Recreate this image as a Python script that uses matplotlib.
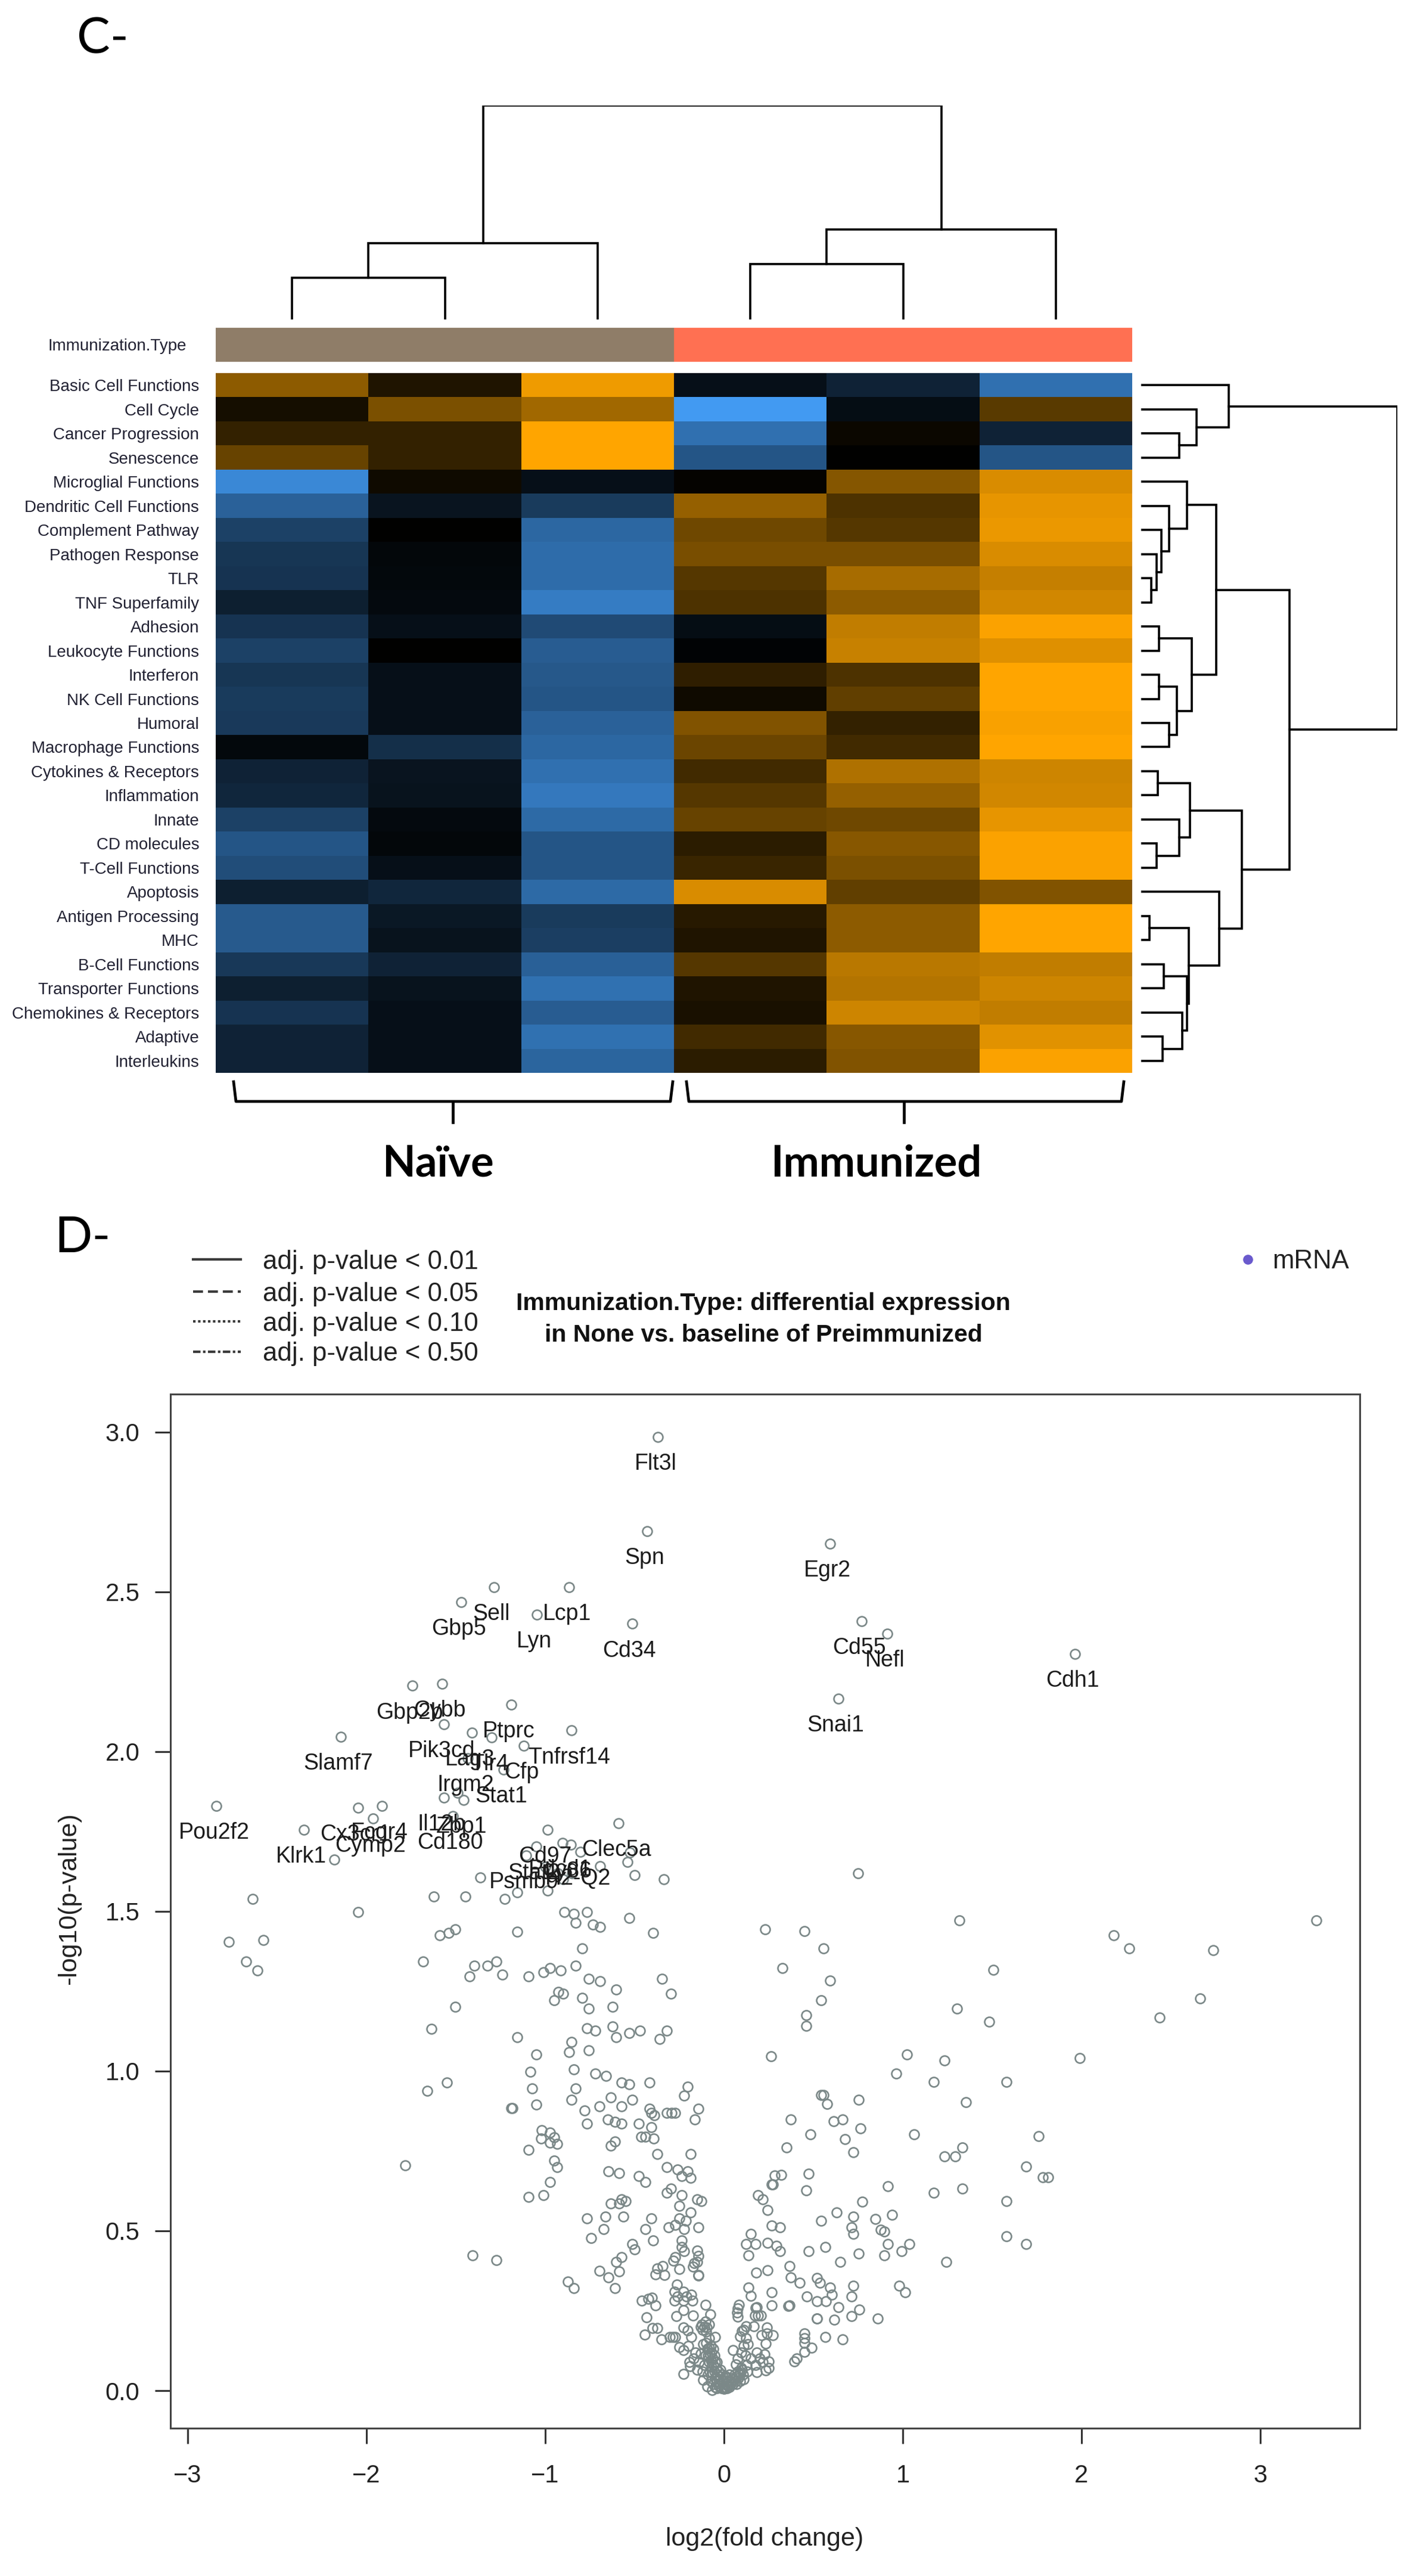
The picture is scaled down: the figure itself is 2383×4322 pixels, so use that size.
import matplotlib
matplotlib.use("Agg")
import matplotlib.pyplot as plt
from matplotlib.colors import LinearSegmentedColormap, ListedColormap

W, H = 2383, 4322
plt.rcParams['font.family'] = ['Liberation Sans', 'DejaVu Sans']

# Panel C data
pathways = ["Basic Cell Functions", "Cell Cycle", "Cancer Progression", "Senescence",
            "Microglial Functions", "Dendritic Cell Functions", "Complement Pathway",
            "Pathogen Response", "TLR", "TNF Superfamily", "Adhesion", "Leukocyte Functions",
            "Interferon", "NK Cell Functions", "Humoral", "Macrophage Functions",
            "Cytokines & Receptors", "Inflammation", "Innate", "CD molecules",
            "T-Cell Functions", "Apoptosis", "Antigen Processing", "MHC", "B-Cell Functions",
            "Transporter Functions", "Chemokines & Receptors", "Adaptive", "Interleukins"]
scores = [
    [.55, .12, .93, -.10, -.22, -.72],
    [.08, .48, .63, -1.0, -.08, .35],
    [.20, .20, 1.0, -.72, .04, -.22],
    [.40, .20, 1.0, -.55, 0, -.55],
    [-.88, .06, -.10, .02, .52, .85],
    [-.63, -.13, -.38, .58, .30, .90],
    [-.42, 0, -.67, .43, .33, .92],
    [-.35, -.04, -.70, .47, .47, .85],
    [-.33, -.05, -.70, .33, .65, .77],
    [-.20, -.06, -.80, .30, .55, .82],
    [-.33, -.10, -.48, -.08, .75, .98],
    [-.42, 0, -.60, -.02, .78, .87],
    [-.35, -.10, -.57, .18, .30, 1.0],
    [-.38, -.10, -.55, .06, .38, 1.0],
    [-.37, -.10, -.63, .50, .20, .97],
    [-.05, -.30, -.67, .42, .25, 1.0],
    [-.22, -.13, -.72, .25, .68, .80],
    [-.25, -.12, -.78, .33, .58, .82],
    [-.42, -.06, -.68, .40, .43, .90],
    [-.55, -.04, -.55, .17, .53, .98],
    [-.50, -.10, -.55, .22, .48, .98],
    [-.20, -.25, -.68, .85, .38, .50],
    [-.58, -.15, -.38, .15, .55, 1.0],
    [-.58, -.12, -.40, .12, .55, 1.0],
    [-.36, -.22, -.62, .33, .72, .75],
    [-.20, -.12, -.73, .12, .70, .80],
    [-.33, -.10, -.60, .10, .80, .75],
    [-.22, -.10, -.73, .25, .53, .88],
    [-.22, -.10, -.65, .17, .50, .98],
]
groups = [[0, 0, 0, 1, 1, 1]]
group_colors = ['#8f7d68', '#ff7052']

# trees: (height, left, right), leaves are row / column numbers
col_tree = (1.0, (.357, (.195, 0, 1), 2), (.42, (.259, 3, 4), 5))
row_tree = (1.0,
    (.343, 0, (.216, 1, (.148, 2, 3))),
    (.58,
        (.293,
            (.18, 4, (.11, 5, (.078, 6, (.06, 7, (.04, 8, 9))))),
            (.198, (.07, 10, 11), (.14, (.07, 12, 13), (.11, 14, 15)))),
        (.392,
            (.19, (.064, 16, 17), (.148, 18, (.06, 19, 20))),
            (.304, 21,
                (.186, (.032, 22, 23),
                    (.18, (.088, 24, 25), (.16, 26, (.083, 27, 28))))))))

# Panel D data, genes with a label
genes = ["Flt3l", "Spn", "Sell", "Lcp1", "Gbp5", "Lyn", "Cd34", "Cybb", "Gbp2b", "Ptprc",
         "Pik3cd", "Lag3", "Tlr4", "Cfp", "Tnfrsf14", "Slamf7", "Irgm2", "Stat1", "Il12b",
         "Zbp1", "Cd180", "Fcgr4", "Cx3cr1", "Cymp2", "Klrk1", "Pou2f2", "Cd97", "Clec5a",
         "Stat2", "Pdcd1", "Psmb9", "H2-Q2", "Ly86", "Egr2", "Cd55", "Nefl", "Cdh1", "Snai1"]
gene_x = [-.37, -.431, -1.287, -.866, -1.47, -1.048, -.515, -1.577, -1.745, -1.191,
          -1.567, -1.409, -1.30, -1.12, -.854, -2.144, -1.433, -1.233, -1.567,
          -1.456, -1.517, -1.914, -2.048, -1.963, -2.35, -2.84, -.987, -.589,
          -1.05, -.903, -1.106, -.803, -.857, .592, .771, .915, 1.965, .639]
gene_y = [2.985, 2.69, 2.514, 2.514, 2.468, 2.429, 2.40, 2.213, 2.206, 2.147,
          2.086, 2.06, 2.045, 2.019, 2.066, 2.047, 1.979, 1.944, 1.857,
          1.849, 1.799, 1.83, 1.824, 1.79, 1.756, 1.83, 1.756, 1.776,
          1.703, 1.715, 1.675, 1.687, 1.709, 2.651, 2.409, 2.37, 2.306, 2.166]

# the unlabelled points, by part of the plot
pts_upper_left = [
    (-1.49, 1.871), (-2.18, 1.662), (-2.637, 1.539), (-2.77, 1.404), (-2.576, 1.411), (-2.672, 1.344),
    (-2.611, 1.316), (-2.047, 1.498), (-1.624, 1.546), (-1.446, 1.546), (-1.589, 1.425), (-1.54, 1.432),
    (-1.502, 1.443), (-1.226, 1.539), (-1.156, 1.559), (-1.156, 1.437), (-1.685, 1.344), (-1.397, 1.33),
    (-1.423, 1.297), (-1.325, 1.33), (-1.273, 1.344), (-1.24, 1.302), (-1.095, 1.297), (-1.011, 1.31),
    (-.974, 1.323), (-.913, 1.316), (-.829, 1.33), (-1.362, 1.607), (-.987, 1.566), (-.693, 1.641),
    (-.93, 1.62), (-1.0, 1.64), (-.9, 1.6), (-.85, 1.62), (-.892, 1.498), (-.84, 1.493), (-.768, 1.498),
    (-.829, 1.464), (-.735, 1.459), (-.693, 1.451), (-.529, 1.479), (-.396, 1.432), (-.337, 1.601),
    (-.501, 1.614), (-.539, 1.654), (-.528, 1.684), (-.794, 1.385), (-.756, 1.289), (-.693, 1.282),
    (-.602, 1.255), (-.347, 1.289), (-.298, 1.242), (-.927, 1.248), (-.899, 1.242), (-.95, 1.222),
    (-.794, 1.229), (-.756, 1.195), (-.623, 1.201), (-1.505, 1.201), (-1.638, 1.133), (-1.156, 1.107),
    (-1.049, 1.053), (-.768, 1.135), (-.721, 1.127), (-.623, 1.14), (-.602, 1.107), (-.529, 1.12),
    (-.469, 1.127), (-.321, 1.127), (-.359, 1.1), (-.854, 1.092), (-.866, 1.06), (-.756, 1.065),
]
pts_mid_left = [
    (-.84, 1.005), (-1.084, .998), (-.721, .992), (-.66, .985), (-.574, .964), (-.529, .958), (-.417, .964),
    (-.202, .951), (-.225, .924), (-1.072, .945), (-.829, .945), (-.854, .911), (-.634, .917), (-.513, .911),
    (-1.551, .964), (-1.661, .938), (-1.189, .884), (-1.182, .884), (-1.049, .895), (-.779, .877), (-.698, .89),
    (-.574, .89), (-.417, .883), (-.408, .87), (-.391, .862), (-.319, .87), (-.295, .87), (-.272, .87),
    (-.143, .882), (-.164, .848), (-.768, .836), (-.649, .849), (-.611, .842), (-.574, .836), (-.478, .836),
    (-.408, .825), (-.464, .795), (-.44, .795), (-.394, .789), (-1.02, .815), (-.974, .808), (-1.023, .789),
    (-.95, .793), (-.974, .776), (-.934, .773), (-1.095, .753), (-.634, .767), (-.611, .78), (-.372, .74),
    (-.188, .74), (-.95, .721), (-.934, .699), (-1.783, .706), (-.646, .687), (-.588, .68), (-.478, .672),
    (-.44, .653), (-.321, .7), (-.26, .693), (-.202, .687), (-.237, .672), (-.188, .666), (-.974, .653),
    (-1.095, .606), (-1.011, .612), (-.298, .632), (-.321, .619), (-.237, .612), (-.15, .599), (-.127, .593),
    (-.634, .586), (-.588, .586), (-.55, .593), (-.574, .599), (-.249, .579), (-.768, .539), (-.665, .545),
    (-.562, .545), (-.408, .539), (-.188, .558), (-.249, .539), (-.214, .531), (-.674, .505), (-.44, .505),
    (-.309, .511), (-.272, .518), (-.225, .505), (-.143, .511), (-.744, .477), (-.396, .471), (-.237, .471),
    (-.513, .458), (-.501, .443), (-1.406, .424), (-1.275, .409), (-.237, .45), (-.225, .437), (-.15, .439),
    (-.143, .422), (-.15, .403), (-.272, .417), (-.283, .407), (-.249, .38), (-.574, .417), (-.602, .403),
    (-.588, .374), (-.698, .375), (-.646, .354), (-.611, .321), (-.875, .341), (-.84, .321), (-.345, .39),
    (-.372, .383), (-.382, .363), (-.335, .361), (-.143, .361), (-.144, .36), (-.172, .388), (-.166, .4),
]
pts_low_left = [
    (-.263, .332), (-.277, .31), (-.227, .31), (-.183, .3), (-.177, .282), (-.261, .294), (-.277, .282),
    (-.227, .282), (-.211, .294), (-.227, .251), (-.266, .233), (-.172, .235), (-.105, .269), (-.077, .238),
    (-.461, .282), (-.422, .288), (-.405, .291), (-.383, .266), (-.433, .229), (-.444, .176), (-.4, .195),
    (-.372, .195), (-.35, .161), (-.305, .167), (-.288, .167), (-.272, .167), (-.227, .198), (-.205, .189),
    (-.183, .167), (-.25, .136), (-.227, .126), (-.194, .089), (-.161, .12), (-.227, .053), (-.189, .077),
    (-.122, .207), (-.096, .197), (-.12, .19), (-.105, .217), (-.083, .207), (-.13, .2), (-.11, .2), (-.1, .185),
    (-.05, .167), (-.083, .164), (-.116, .145), (-.2, .14), (-.17, .1), (-.15, .065), (-.14, .09), (-.13, .115),
    (-.116, .033), (-.066, .002), (-.094, .014), (-.12, .06), (-.11, .08), (-.105, .11),
]
pts_dense = [
    (-.10, .15), (-.095, .13), (-.085, .135), (-.09, .11), (-.08, .115), (-.07, .12), (-.085, .09), (-.075, .095),
    (-.065, .10), (-.07, .075), (-.06, .08), (-.05, .09), (-.065, .055), (-.055, .06), (-.045, .07), (-.05, .04),
    (-.04, .05), (-.03, .06), (-.04, .03), (-.03, .035), (-.02, .045), (-.03, .015), (-.02, .02), (-.01, .03),
    (-.015, .008), (-.005, .012), (0, .006), (.005, .01), (.01, .02), (.015, .008), (.02, .015), (.03, .012),
    (.025, .03), (.035, .02), (.04, .03), (.05, .02), (.045, .04), (.055, .035), (.065, .03), (.06, .05), (.07, .045),
    (.08, .04), (.075, .06), (.085, .055), (.09, .05), (.095, .07), (.03, .05), (.015, .04), (-.01, .05), (-.02, .065),
    (.1, .065), (.105, .05), (-.08, .06), (-.09, .05), (-.075, .03), (-.06, .02), (-.05, .012), (-.04, .008),
    (-.075, .14), (-.06, .13), (-.055, .11), (-.04, .09), (.0, .03), (.01, .045), (.07, .02), (.09, .03), (.11, .035),
]
pts_right = [
    (.749, 1.62), (1.316, 1.471), (3.313, 1.471), (.231, 1.444), (.449, 1.438), (2.181, 1.425), (2.266, 1.384),
    (2.738, 1.378), (.558, 1.384), (.326, 1.323), (1.507, 1.317), (.594, 1.283), (2.664, 1.228), (.544, 1.222),
    (1.303, 1.195), (.46, 1.175), (.46, 1.142), (2.438, 1.167), (1.483, 1.155), (1.024, 1.052), (.263, 1.046),
    (1.99, 1.04), (1.232, 1.033), (.965, .992), (1.172, .966), (1.581, .966), (.544, .925), (.558, .925),
    (.577, .897), (.752, .911), (1.352, .903), (.375, .849), (.615, .843), (.665, .849), (.763, .821), (.484, .802),
    (1.063, .802), (1.761, .796), (.678, .788), (.351, .761), (1.335, .761), (.725, .747), (1.292, .733),
    (1.232, .733), (1.69, .701), (1.783, .667), (1.813, .667), (.474, .679), (.321, .675), (.285, .673), (.266, .646),
    (.273, .646), (.918, .639), (.46, .626), (1.335, .632), (1.172, .62), (.19, .612), (.217, .599), (1.581, .593),
    (.774, .591), (.244, .566), (.629, .558), (.94, .55), (.722, .544), (.847, .538), (.544, .532), (.266, .517),
    (.313, .511), (.714, .511), (.877, .503), (.896, .499), (.149, .491), (.725, .491), (1.581, .484), (.122, .458),
    (.176, .458), (.566, .45), (.918, .458), (1.038, .458), (1.69, .458), (.244, .462), (.294, .454), (.313, .437),
    (.474, .437), (.992, .437), (.135, .423), (.752, .429), (.896, .423), (.651, .403), (1.245, .403), (.367, .39),
    (.375, .355), (.244, .376), (.179, .37), (.422, .337), (.52, .352), (.536, .337), (.594, .322), (.725, .329),
    (.135, .322), (.981, .329), (1.014, .308), (.266, .308), (.604, .3), (.463, .294), (.714, .294), (.149, .297),
    (.52, .28), (.569, .28), (.64, .261), (.367, .266), (.361, .264), (.266, .266), (.182, .261), (.757, .253),
    (.714, .234), (.52, .225), (.519, .226), (.618, .222), (.861, .226), (.449, .179), (.449, .164), (.449, .15),
    (.566, .167), (.665, .16), (.49, .135), (.449, .121), (.408, .101), (.395, .092),
]
pts_low_right = [
    (.084, .269), (.078, .257), (.073, .245), (.078, .232), (.178, .26), (.173, .235), (.189, .235), (.206, .235),
    (.123, .201), (.167, .201), (.1, .186), (.123, .164), (.134, .145), (.241, .198), (.241, .179), (.211, .173),
    (.272, .173), (.234, .148), (.05, .126), (.095, .12), (.184, .12), (.228, .114), (.25, .092), (.234, .064),
    (.184, .058), (.128, .08), (.178, .08), (.067, .083), (.11, .19), (.09, .17), (.11, .14), (.12, .11), (.075, .1),
    (.15, .1), (.13, .06), (.215, .09), (.25, .07), (.2, .1),
]

# Legend and title text
legend_labels = ["adj. p-value < 0.01", "adj. p-value < 0.05", "adj. p-value < 0.10", "adj. p-value < 0.50"]
legend_styles = ['-', (0, (4, 2)), (0, (1, 1)), (0, (3, 1, 1, 1))]
title_lines = ["Immunization.Type: differential expression", "in None vs. baseline of Preimmunized"]


def px_axes(fig, left, top, right, bottom):
    return fig.add_axes([left / W, 1 - bottom / H, (right - left) / W, (bottom - top) / H])


def draw_tree(ax, node, horizontal):
    # returns position and height of the node, draws its three lines
    if not isinstance(node, tuple):
        return node + 0.5, 0
    h, left, right = node
    p1, h1 = draw_tree(ax, left, horizontal)
    p2, h2 = draw_tree(ax, right, horizontal)
    xs, ys = [p1, p1, p2, p2], [h1, h, h, h2]
    if horizontal:
        xs, ys = ys, xs
    ax.plot(xs, ys, color='black', lw=2.6, solid_joinstyle='miter')
    return (p1 + p2) / 2, h


fig = plt.figure(figsize=(W / 100, H / 100), dpi=100, facecolor='white')
ov = fig.add_axes([0, 0, 1, 1])
ov.set_xlim(0, W)
ov.set_ylim(H, 0)
ov.axis('off')

# Panel C
heat_cmap = LinearSegmentedColormap.from_list('bo', ['#429af2', '#000000', '#ffa500'])
ax_heat = px_axes(fig, 362, 626, 1900, 1800)
ax_heat.pcolormesh(scores, cmap=heat_cmap, vmin=-1, vmax=1)
ax_heat.set_ylim(len(pathways), 0)
ax_heat.set_yticks([i + 0.5 for i in range(len(pathways))], pathways, fontsize=20, color='#222233')
ax_heat.set_xticks([])
ax_heat.tick_params(axis='y', length=0, pad=20)
for s in ax_heat.spines.values():
    s.set_visible(False)

ax_bar = px_axes(fig, 362, 550, 1900, 607)
ax_bar.pcolormesh(groups, cmap=ListedColormap(group_colors))
ax_bar.set_xticks([])
ax_bar.set_yticks([0.5], ["Immunization.Type"], fontsize=20, color='#222233')
ax_bar.tick_params(axis='y', length=0, pad=35)
for s in ax_bar.spines.values():
    s.set_visible(False)

ax_ctree = px_axes(fig, 362, 177, 1900, 536)
draw_tree(ax_ctree, col_tree, False)
ax_ctree.set_xlim(0, 6)
ax_ctree.set_ylim(0, 1)
ax_ctree.axis('off')

ax_rtree = px_axes(fig, 1915, 626, 2345, 1800)
draw_tree(ax_rtree, row_tree, True)
ax_rtree.set_xlim(0, 1)
ax_rtree.set_ylim(len(pathways), 0)
ax_rtree.axis('off')

# brackets under the heatmap
for x0, x1, tip in [(392, 1129, 760), (1152, 1886, 1517)]:
    ov.plot([x0, x0 + 4, x1 - 4, x1], [1815, 1848, 1848, 1815], color='black', lw=3.4)
    ov.plot([tip, tip], [1848, 1883], color='black', lw=3.4)
ov.text(735, 1953, "Naïve", fontsize=52, fontweight='bold', family='Lato', ha='center', va='center')
ov.text(1470, 1953, "Immunized", fontsize=52, fontweight='bold', family='Lato', ha='center', va='center')
ov.text(129, 67, "C-", fontsize=60, family='Lato', ha='left', va='center')
ov.text(91, 2078, "D-", fontsize=60, family='Lato', ha='left', va='center')

# Panel D
for i, (label, style) in enumerate(zip(legend_labels, legend_styles)):
    y = [2113, 2167, 2217, 2268][i]
    ov.plot([324, 404], [y, y], color='#3a3a3a', lw=3, linestyle=style)
    ov.text(441, y + 4, label, fontsize=31.5, color='#222222', ha='left', va='center')
ov.plot([2094], [2113], 'o', color='#6a5acd', ms=11)
ov.text(2135, 2117, "mRNA", fontsize=31.5, color='#222222', ha='left', va='center')
for line, y in zip(title_lines, [2187, 2240]):
    ov.text(1281, y, line, fontsize=29.5, fontweight='bold', color='#111111', ha='center', va='center')
ov.text(116, 3186, "-log10(p-value)", fontsize=31, color='#222222', rotation=90, ha='center', va='center')
ov.text(1283, 4260, "log2(fold change)", fontsize=31, color='#222222', ha='center', va='center')

ax = px_axes(fig, 286, 2339, 2282, 4074)
all_pts = pts_upper_left + pts_mid_left + pts_low_left + pts_dense + pts_right + pts_low_right
ax.plot(gene_x + [p[0] for p in all_pts], gene_y + [p[1] for p in all_pts], 'o', mfc='none',
        mec='#7b8888', ms=11.5, mew=1.9, linestyle='none')
for name, gx, gy in zip(genes, gene_x, gene_y):
    ax.annotate(name, (gx, gy), xytext=(-3, -32.5), textcoords='offset points', ha='center', va='center',
                fontsize=27, color='#1c1c1c')
ax.set_xlim(-3.097, 3.557)
ax.set_ylim(-0.1175, 3.119)
ax.set_xticks([-3, -2, -1, 0, 1, 2, 3])
ax.set_yticks([0, .5, 1, 1.5, 2, 2.5, 3], ["0.0", "0.5", "1.0", "1.5", "2.0", "2.5", "3.0"])
ax.tick_params(axis='both', labelsize=30, length=19, width=2.2, color='#333333', labelcolor='#222222')
ax.tick_params(axis='x', pad=24)
ax.tick_params(axis='y', pad=18)
for s in ax.spines.values():
    s.set_linewidth(2.2)
    s.set_color('#444444')

fig.savefig("out.png", dpi=100)
